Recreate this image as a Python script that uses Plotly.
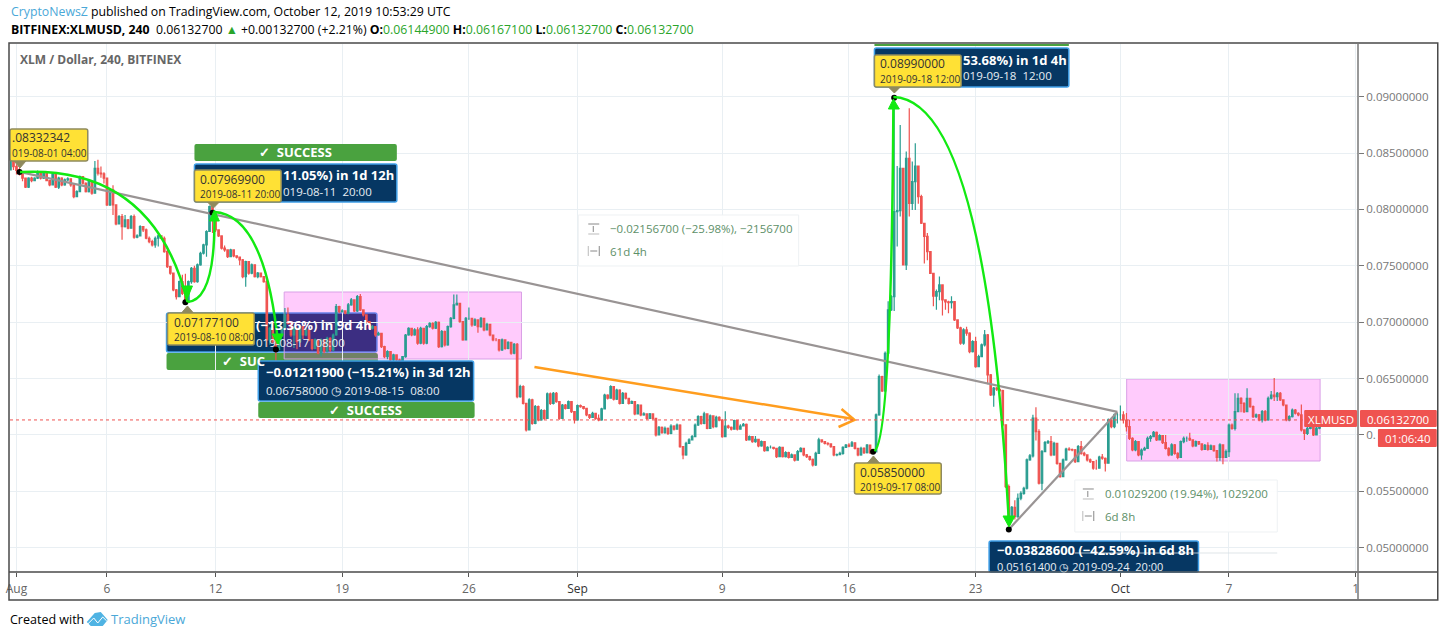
import pandas as pd
import plotly.graph_objects as go

# prices, in units of 0.00001. one row = one day of 4h bars
first_open = 8351
closes = [
    8425, 8380,
    8345, 8332, 8277, 8197, 8277, 8256,
    8277, 8336, 8277, 8321, 8256, 8218,
    8315, 8197, 8277, 8218, 8262, 8271,
    8218, 8114, 8158, 8291, 8232, 8158,
    8247, 8144, 8365, 8321, 8315, 8277,
    8040, 8173, 8040, 7872, 7937, 7848,
    7907, 7833, 7937, 7753, 7765, 7848,
    7818, 7744, 7715, 7685, 7744, 7765,
    7744, 7626, 7493, 7434, 7286, 7227,
    7360, 7256, 7177, 7360, 7478, 7360,
    7508, 7611, 7685, 7804, 8025, 7970,
    7818, 7765, 7656, 7641, 7582, 7641,
    7588, 7576, 7552, 7404, 7537, 7434,
    7508, 7404, 7434, 7404, 7360, 6842,
    6946, 6827, 6759, 6886, 6946, 7064,
    6990, 6886, 6946, 6827, 6960, 6886,
    6931, 6842, 6768, 6842, 6724, 6842,
    6739, 6857, 6753, 6886, 7138, 7093,
    7100, 7079, 7153, 7197, 7099, 7226,
    7108, 7064, 7005, 6946, 6960, 6886,
    6901, 6783, 6694, 6739, 6665, 6709,
    6665, 6620, 6694, 6886, 6946, 6886,
    6931, 6813, 6946, 6813, 6960, 6990,
    6946, 6999, 6783, 6916, 6798, 6960,
    7034, 7153, 7167, 7005, 6842, 7034,
    7034, 6975, 7020, 6960, 7034, 6931,
    6981, 6886, 6842, 6842, 6753, 6842,
    6768, 6821, 6724, 6804, 6340, 6428,
    6280, 6044, 6310, 6103, 6250, 6132,
    6215, 6147, 6363, 6280, 6369, 6295,
    6147, 6265, 6236, 6295, 6206, 6132,
    6259, 6250, 6236, 6177, 6156, 6191,
    6147, 6132, 6230, 6354, 6325, 6428,
    6316, 6398, 6280, 6369, 6325, 6280,
    6295, 6186, 6265, 6177, 6186, 6147,
    6186, 6147, 5999, 6067, 6020, 6058,
    6014, 6079, 6050, 6088, 5896, 5822,
    5925, 5955, 5984, 6088, 6162, 6102,
    6186, 6058, 6168, 6073, 6156, 6132,
    5984, 6079, 6067, 6050, 6126, 6050,
    6079, 6094, 5955, 5984, 5940, 5961,
    5902, 5940, 5860, 5890, 5890, 5881,
    5807, 5890, 5807, 5842, 5801, 5822,
    5777, 5851, 5881, 5822, 5807, 5783,
    5733, 5836, 5955, 5940, 5925, 5920,
    5896, 5822, 5825, 5836, 5890, 5910,
    5900, 5930, 5880, 5822, 5881, 5842,
    5910, 5842, 5850, 6177, 6517, 6390,
    6724, 7108, 7226, 7980, 7990, 8365,
    7507, 8453, 8054, 8246, 8385, 8113,
    7877, 7760, 7625, 7433, 7230, 7270,
    7330, 7197, 7180, 7173, 7182, 7020,
    6950, 6813, 6931, 6902, 6739, 6828,
    6606, 6695, 6798, 6887, 6532, 6355,
    6414, 6405, 6393, 6089, 5542, 5275,
    5358, 5275, 5438, 5482, 5527, 5778,
    5814, 6148, 6029, 5571, 5852, 5932,
    5941, 5822, 5926, 5748, 5630, 5778,
    5873, 5870, 5867, 5763, 5896, 5837,
    5822, 5778, 5763, 5704, 5704, 5802,
    5793, 5749, 6133, 6074, 6177, 6177,
    6177, 6132, 6073, 5970, 5866, 5940,
    5822, 5866, 5881, 5970, 5985, 6023,
    5955, 5993, 5931, 5881, 5822, 5911,
    5837, 5801, 5940, 5970, 5970, 5955,
    5902, 5940, 5920, 5872, 5908, 5872,
    5902, 5860, 5801, 5911, 5801, 5852,
    6088, 6058, 6206, 6325, 6280, 6206,
    6325, 6251, 6162, 6177, 6132, 6206,
    6132, 6325, 6354, 6339, 6369, 6310,
    6265, 6132, 6162, 6221, 6192, 6177,
    6044, 6014, 6058, 6118, 6000, 6060,
    6090, 6145, 6133,
]
highs = [
    8439, 8430,
    8400, 8370, 8335, 8280, 8285, 8290,
    8285, 8345, 8340, 8330, 8325, 8260,
    8325, 8320, 8290, 8285, 8275, 8285,
    8275, 8220, 8170, 8300, 8295, 8240,
    8260, 8250, 8430, 8440, 8380, 8330,
    8280, 8185, 8215, 8045, 7950, 7960,
    7950, 7915, 7950, 7955, 7780, 7860,
    7850, 7830, 7760, 7730, 7760, 7780,
    7770, 7760, 7640, 7500, 7440, 7295,
    7370, 7420, 7430, 7370, 7490, 7500,
    7520, 7625, 7695, 7815, 8035, 8030,
    7980, 7820, 7770, 7680, 7645, 7650,
    7645, 7590, 7580, 7560, 7545, 7540,
    7520, 7510, 7445, 7440, 7410, 7375,
    6960, 7000, 6850, 6900, 6960, 7125,
    7130, 7000, 6960, 6950, 6975, 6970,
    6945, 6940, 6850, 6855, 6850, 6855,
    6850, 6870, 6865, 6900, 7160, 7145,
    7115, 7105, 7170, 7215, 7200, 7240,
    7250, 7115, 7070, 7010, 6975, 6965,
    6915, 6905, 6790, 6750, 6745, 6720,
    6715, 6675, 6700, 6895, 6955, 6950,
    6945, 6955, 6960, 6950, 6975, 7000,
    7000, 7010, 7005, 6930, 6925, 6970,
    7045, 7245, 7245, 7170, 7010, 7045,
    7130, 7040, 7035, 7025, 7045, 7040,
    6995, 6985, 6890, 6860, 6850, 6855,
    6845, 6830, 6825, 6815, 6815, 6445,
    6440, 6285, 6325, 6320, 6265, 6260,
    6230, 6225, 6375, 6375, 6380, 6380,
    6300, 6275, 6275, 6305, 6300, 6210,
    6270, 6270, 6255, 6240, 6185, 6205,
    6195, 6180, 6240, 6365, 6360, 6440,
    6430, 6410, 6405, 6380, 6375, 6330,
    6305, 6300, 6275, 6270, 6200, 6190,
    6195, 6190, 6150, 6080, 6075, 6075,
    6065, 6095, 6085, 6100, 6095, 5900,
    5940, 5970, 6000, 6100, 6175, 6170,
    6205, 6190, 6180, 6175, 6170, 6165,
    6140, 6210, 6090, 6075, 6135, 6130,
    6095, 6105, 6100, 5995, 5990, 5990,
    5965, 5950, 5945, 5900, 5905, 5895,
    5885, 5900, 5895, 5855, 5850, 5835,
    5825, 5865, 5890, 5885, 5830, 5815,
    5790, 5850, 5975, 5960, 5945, 5935,
    5925, 5900, 5835, 5850, 5900, 5920,
    5925, 5945, 5935, 5885, 5895, 5890,
    5920, 5915, 5870, 6190, 6535, 6525,
    6740, 7185, 7240, 8990, 8385, 8749,
    8335, 8513, 8897, 8424, 8587, 8390,
    8130, 7775, 7790, 7630, 7350, 7290,
    7405, 7335, 7200, 7190, 7230, 7185,
    7025, 6960, 6945, 6960, 6910, 6840,
    6870, 6710, 6810, 6930, 6895, 6540,
    6425, 6425, 6410, 6400, 6095, 5560,
    5370, 5420, 5480, 5500, 5540, 5790,
    5830, 6178, 6245, 6050, 5865, 5945,
    5955, 5990, 5940, 5930, 5750, 5790,
    5885, 5890, 5880, 5875, 5910, 5945,
    5850, 5825, 5790, 5765, 5780, 5815,
    5830, 5800, 6145, 6140, 6190, 6195,
    6260, 6210, 6195, 6135, 5980, 5955,
    5945, 5880, 5895, 5985, 6000, 6035,
    6030, 6005, 6000, 6000, 5890, 5925,
    5920, 5845, 5950, 5985, 5985, 6020,
    5960, 5950, 5945, 5925, 5920, 5935,
    5915, 5905, 5865, 5925, 5915, 5870,
    6100, 6100, 6369, 6370, 6335, 6290,
    6413, 6330, 6260, 6190, 6185, 6220,
    6220, 6340, 6390, 6505, 6380, 6380,
    6315, 6270, 6175, 6235, 6230, 6200,
    6270, 6050, 6070, 6130, 6125, 6080,
    6100, 6150, 6167,
]
lows = [
    8351, 8350,
    8310, 8300, 8250, 8190, 8190, 8240,
    8250, 8270, 8265, 8270, 8250, 8205,
    8215, 8190, 8180, 8205, 8210, 8250,
    8200, 8100, 8110, 8155, 8220, 8150,
    8150, 8130, 8140, 8300, 8280, 8230,
    8030, 8030, 7950, 7860, 7865, 7730,
    7840, 7825, 7830, 7740, 7745, 7760,
    7800, 7735, 7700, 7670, 7660, 7670,
    7740, 7615, 7480, 7420, 7275, 7200,
    7220, 7240, 7177, 7180, 7340, 7350,
    7350, 7500, 7600, 7580, 7800, 7790,
    7800, 7755, 7645, 7625, 7570, 7575,
    7575, 7565, 7505, 7390, 7315, 7420,
    7425, 7395, 7390, 7395, 7350, 6780,
    6800, 6810, 6640, 6755, 6870, 6930,
    6980, 6870, 6770, 6760, 6815, 6850,
    6875, 6830, 6750, 6760, 6715, 6695,
    6725, 6730, 6735, 6740, 6880, 7080,
    7085, 7070, 7070, 7145, 7090, 7090,
    7100, 7050, 6995, 6935, 6935, 6870,
    6880, 6770, 6680, 6670, 6650, 6640,
    6650, 6600, 6610, 6685, 6880, 6875,
    6880, 6800, 6805, 6800, 6805, 6950,
    6935, 6940, 6770, 6775, 6785, 6790,
    6950, 7025, 7150, 6995, 6835, 6840,
    7020, 6960, 6965, 6905, 6950, 6920,
    6925, 6875, 6830, 6830, 6740, 6745,
    6755, 6760, 6710, 6715, 6325, 6330,
    6270, 6030, 6040, 6090, 6095, 6120,
    6125, 6135, 6140, 6265, 6270, 6285,
    6135, 6140, 6225, 6230, 6195, 6100,
    6125, 6240, 6225, 6165, 6140, 6150,
    6135, 6120, 6125, 6225, 6315, 6320,
    6305, 6310, 6270, 6275, 6315, 6270,
    6275, 6175, 6180, 6165, 6170, 6135,
    6140, 6135, 5985, 5995, 6010, 6010,
    6000, 6005, 6040, 6045, 5885, 5785,
    5815, 5920, 5950, 5980, 6080, 6090,
    6095, 6050, 6055, 6060, 6065, 6120,
    5975, 5980, 6055, 6040, 6045, 6040,
    6045, 6075, 5945, 5950, 5930, 5930,
    5890, 5895, 5850, 5855, 5880, 5870,
    5795, 5805, 5800, 5800, 5790, 5795,
    5765, 5770, 5845, 5810, 5795, 5770,
    5720, 5725, 5830, 5930, 5915, 5905,
    5885, 5810, 5810, 5825, 5825, 5885,
    5890, 5895, 5870, 5810, 5815, 5830,
    5835, 5830, 5830, 5845, 6170, 6380,
    6380, 6715, 7100, 7100, 7670, 7936,
    7507, 7463, 7936, 7995, 7995, 8050,
    7870, 7520, 7550, 7430, 7140, 7110,
    7195, 7060, 7110, 7080, 7120, 7010,
    6940, 6800, 6800, 6880, 6725, 6730,
    6595, 6600, 6690, 6785, 6450, 6345,
    6250, 6390, 6380, 6075, 5530, 5161,
    5265, 5250, 5265, 5420, 5470, 5515,
    5770, 5800, 5950, 5560, 5510, 5850,
    5920, 5810, 5815, 5735, 5620, 5625,
    5770, 5860, 5855, 5750, 5760, 5825,
    5810, 5765, 5750, 5690, 5690, 5700,
    5780, 5675, 5745, 6060, 6060, 6100,
    6130, 6100, 6030, 5955, 5855, 5855,
    5810, 5780, 5860, 5875, 5940, 5980,
    5945, 5950, 5920, 5870, 5810, 5815,
    5825, 5785, 5795, 5925, 5940, 5945,
    5890, 5895, 5910, 5860, 5865, 5860,
    5890, 5850, 5765, 5770, 5740, 5795,
    5805, 6045, 6040, 6200, 6200, 6195,
    6200, 6240, 6150, 6150, 6120, 6110,
    6120, 6125, 6315, 6300, 6300, 6300,
    6255, 6120, 6120, 6155, 6180, 6165,
    6030, 5955, 6000, 6050, 5990, 5995,
    6050, 6085, 6133,
]
price_unit = 0.00001
last_price = 0.06132700

marker_dates = ["2019-08-01 04:00", "2019-08-10 08:00", "2019-08-11 20:00", "2019-08-15 08:00",
                "2019-09-17 08:00", "2019-09-18 12:00", "2019-09-24 20:00"]
marker_prices = [0.08332342, 0.07177100, 0.07969900, 0.06758000, 0.05850000, 0.08990000, 0.05161400]

long_trend_dates = ["2019-08-01 04:00", "2019-09-30 20:00"]
long_trend_prices = [0.08332342, 0.06204000]
short_trend_dates = ["2019-09-24 20:00", "2019-09-30 20:00"]
short_trend_prices = [0.05161400, 0.06204000]

tick_dates = ["2019-08-01", "2019-08-06", "2019-08-12", "2019-08-19", "2019-08-26", "2019-09-01",
              "2019-09-09", "2019-09-16", "2019-09-23", "2019-10-01", "2019-10-07", "2019-10-14"]
tick_labels = ["Aug", "6", "12", "19", "26", "<span style='color:#333'>Sep</span>", "9", "16", "23",
               "<span style='color:#333'>Oct</span>", "7", "1"]
price_ticks = [0.05, 0.055, 0.06, 0.065, 0.07, 0.075, 0.08, 0.085, 0.09]
price_labels = ["0.05000000", "0.05500000", "0.", "0.06500000", "0.07000000", "0.07500000",
                "0.08000000", "0.08500000", "0.09000000"]

FONT = "Open Sans"
UP = "#2a9d91"
DOWN = "#ef5350"
NAVY = "#063763"
EDGE = "#3f9fe8"
GREEN = "#4aa23f"
YELLOW = "#ffe135"
LIME = "#12ea12"
GRID = "#e9eff3"
FRAME = "#4a4a4a"

PLOT_L, PLOT_R, PLOT_T, PLOT_B = 6, 1358, 44, 572


def px_x(v):
    return (v - PLOT_L) / (PLOT_R - PLOT_L)


def px_y(v):
    return (PLOT_B - v) / (PLOT_B - PLOT_T)


def path_shape(d, fill=None, line=None, width=1, layer="above"):
    """d is a list of (command, px, py, ...) parts in page pixels"""
    out = []
    for part in d:
        out.append(part[0])
        nums = part[1:]
        for i in range(0, len(nums), 2):
            out.append(f"{px_x(nums[i]):.5f},{px_y(nums[i + 1]):.5f}")
    return dict(type="path", xref="paper", yref="paper", path=" ".join(out), layer=layer,
                fillcolor=fill or "rgba(0,0,0,0)", line=dict(color=line or "rgba(0,0,0,0)", width=width))


def rect(x0, y0, x1, y1, fill, line=None, width=1, layer="above", radius=2):
    r = radius
    return path_shape([("M", x0 + r, y0), ("L", x1 - r, y0), ("Q", x1, y0, x1, y0 + r), ("L", x1, y1 - r),
                       ("Q", x1, y1, x1 - r, y1), ("L", x0 + r, y1), ("Q", x0, y1, x0, y1 - r),
                       ("L", x0, y0 + r), ("Q", x0, y0, x0 + r, y0), ("Z",)], fill, line, width, layer)


def seg(x0, y0, x1, y1, color, width=1, layer="above"):
    return path_shape([("M", x0, y0), ("L", x1, y1)], None, color, width, layer)


def label(x, y, text, size=12, color="#000", anchor="left"):
    return dict(xref="paper", yref="paper", x=px_x(x), y=px_y(y), text=text, showarrow=False,
                xanchor=anchor, yanchor="middle", align=anchor, borderpad=0,
                font=dict(family=FONT, size=size, color=color))


shapes = []
notes = []

# blue result box that sits under the candles, then the pink ranges
shapes.append(rect(163, 313, 374, 352, NAVY, EDGE, 1.5, "below"))
shapes.append(rect(163, 353, 375, 370, GREEN, None, 1, "below"))
shapes.append(rect(281, 292, 519, 359, "rgba(255,20,240,0.22)", "#d9a0e6", 1, "below", 0))
shapes.append(rect(1126, 379, 1320, 461, "rgba(255,20,240,0.22)", "#d9a0e6", 1, "below", 0))

# curved arrows
shapes.append(path_shape([("M", 16, 172), ("Q", 150, 165, 184, 302)], None, LIME, 2.5))
shapes.append(path_shape([("M", 184, 302), ("Q", 212, 300, 211, 216)], None, LIME, 2.5))
shapes.append(path_shape([("M", 211, 212), ("Q", 262, 215, 275, 345)], None, LIME, 2.5))
shapes.append(path_shape([("M", 873, 451), ("Q", 890, 440, 892, 105)], None, LIME, 2.5))
shapes.append(path_shape([("M", 892, 97), ("Q", 985, 100, 1008, 525)], None, LIME, 2.5))
for tri in [((178, 286), (189, 286), (184, 298)), ((206, 221), (216, 221), (211, 210)),
            ((269, 334), (280, 334), (275, 345)), ((887, 109), (898, 109), (892, 99)),
            ((1002, 516), (1014, 516), (1008, 527))]:
    shapes.append(path_shape([("M", *tri[0]), ("L", *tri[1]), ("L", *tri[2]), ("Z",)], LIME, LIME, 1))

# orange arrow
shapes.append(seg(532, 367, 852, 419, "#ff9d1e", 2.5))
shapes.append(path_shape([("M", 840, 409), ("L", 853, 420), ("L", 837, 427)], None, "#ff9d1e", 2.5))

# result boxes over the candles
shapes.append(rect(191, 144, 394, 161, GREEN))
shapes.append(rect(191, 164, 394, 202, NAVY, EDGE, 1.5))
shapes.append(rect(255, 361, 471, 401, NAVY, EDGE, 1.5))
shapes.append(rect(255, 402, 472, 418, GREEN))
shapes.append(rect(873, 44, 1068, 46, GREEN, None, 1, "above", 0))
shapes.append(rect(873, 48, 1068, 87, NAVY, EDGE, 1.5))
shapes.append(rect(988, 541, 1198, 572, NAVY, EDGE, 1.5))

# yellow callouts, box then pointer
for x0, y0, x1, y1, tip_x, tip_y in [(6, 129, 84, 161, 16, 168), (191, 170, 278, 202, 210, 208),
                                     (164, 313, 251, 345, 184, 306), (853, 463, 940, 494, 872, 456),
                                     (873, 55, 960, 87, 893, 93)]:
    base = y1 if tip_y > y1 else y0
    shapes.append(path_shape([("M", tip_x - 6, base), ("L", tip_x, tip_y), ("L", tip_x + 6, base), ("Z",)],
                             "#8f8a5e", "#8f8a5e", 1))
    shapes.append(rect(x0, y0, x1, y1, YELLOW, "#8f8a5e", 1.5))

# measure boxes
shapes.append(rect(576, 215, 797, 266, "rgba(255,255,255,0.9)", "#eef1f3", 1, "above", 0))
shapes.append(rect(1074, 480, 1277, 532, "rgba(255,255,255,0.9)", "#eef1f3", 1, "above", 0))
for bx, by in [(591, 229), (1087, 494)]:
    shapes.append(seg(bx - 5, by - 5, bx + 6, by - 5, "#888"))
    shapes.append(seg(bx - 5, by + 5, bx + 6, by + 5, "#bbb"))
    shapes.append(seg(bx, by - 3, bx, by + 3, "#888"))
for bx, by in [(591, 251), (1087, 516)]:
    shapes.append(seg(bx - 5, by - 5, bx - 5, by + 5, "#bbb"))
    shapes.append(seg(bx + 6, by - 5, bx + 6, by + 5, "#888"))
    shapes.append(seg(bx - 3, by, bx + 4, by, "#888"))
shapes.append(seg(1074, 553, 1277, 553, "rgba(215,222,226,0.8)", 1))

# price labels right of the scale
shapes.append(rect(1304, 410, 1357, 427, DOWN, None, 1, "above", 1))
shapes.append(rect(1360, 410, 1437, 427, DOWN, None, 1, "above", 1))
shapes.append(rect(1378, 429, 1437, 447, DOWN, None, 1, "above", 1))

# last price line
shapes.append(dict(type="line", xref="paper", x0=0, x1=1, yref="y", y0=last_price, y1=last_price, layer="above",
                   line=dict(color="#ef5350", width=1, dash="dot")))

# outer frame and scale lines
shapes.append(rect(5, 43, 1438, 600, None, FRAME, 1.5, "above", 0))
shapes.append(seg(5, 572, 1438, 572, FRAME, 1.5))
shapes.append(seg(1358, 43, 1358, 600, "#777", 1.5))

# TradingView logo
shapes.append(path_shape([("M", 83, 622), ("L", 91, 613), ("L", 97, 612), ("L", 104, 620), ("L", 99, 626),
                          ("L", 87, 626), ("Z",)], "#4fb3e3"))
shapes.append(path_shape([("M", 84, 624), ("L", 90, 618), ("L", 94, 623), ("L", 99, 617), ("L", 103, 621)],
                         None, "#ffffff", 1))

notes.append(label(6, 11, "<span style='color:#4aa8d8'>CryptoNewsZ</span> published on TradingView.com, "
                          "October 12, 2019 10:53:29 UTC", 12.3))
g = "<span style='color:#2aa52a'>%s</span>"
notes.append(label(6, 29, "<b>BITFINEX:XLMUSD, 240</b>  0.06132700 " + g % "▲" + " +0.00132700 (+2.21%) <b>O:</b>"
                   + g % "0.06144900" + " <b>H:</b>" + g % "0.06167100" + " <b>L:</b>" + g % "0.06132700"
                   + " <b>C:</b>" + g % "0.06132700", 12.3))
notes.append(label(15, 60, "<b>XLM / Dollar, 240, BITFINEX</b>", 12, "#666"))
notes.append(label(5, 619, "Created with", 12.5))
notes.append(label(106, 619, "TradingView", 13, "#4aa8d8"))

# success bars
for cx, cy in [(292, 152), (363, 410)]:
    notes.append(label(cx, cy, "<b>✓  SUCCESS</b>", 13, "#fff", "center"))
notes.append(label(240, 361, "<b>✓  SUC</b>", 13, "#fff", "center"))

# result box texts, only the part not hidden by a callout
notes.append(label(279, 175, "<b>11.05%) in 1d 12h</b>", 13, "#fff"))
notes.append(label(279, 191, "019-08-11  20:00", 11.5, "#e8eef4"))
notes.append(label(252, 325, "<b>(−13.36%) in 9d 4h</b>", 13, "#fff"))
notes.append(label(252, 342, "019-08-17  08:00", 11.5, "#e8eef4"))
notes.append(label(262, 372, "<b>−0.01211900 (−15.21%) in 3d 12h</b>", 13, "#fff"))
notes.append(label(262, 390, "0.06758000 ◷ 2019-08-15  08:00", 11.5, "#e8eef4"))
notes.append(label(961, 60, "<b>53.68%) in 1d 4h</b>", 13, "#fff"))
notes.append(label(961, 76, "019-09-18  12:00", 11.5, "#e8eef4"))
notes.append(label(995, 550, "<b>−0.03828600 (−42.59%) in 6d 8h</b>", 13, "#fff"))
notes.append(label(995, 566, "0.05161400 ◷ 2019-09-24  20:00", 11, "#e8eef4"))

# callout texts
for x, y, top, bottom in [(7, 138, ".08332342", "019-08-01 04:00"), (196, 179, "0.07969900", "2019-08-11 20:00"),
                          (169, 322, "0.07177100", "2019-08-10 08:00"), (858, 472, "0.05850000", "2019-09-17 08:00"),
                          (878, 64, "0.08990000", "2019-09-18 12:00")]:
    notes.append(label(x, y, top, 12, "#333"))
    notes.append(label(x, y + 15, bottom, 10, "#333"))

# measure texts
notes.append(label(607, 229, "−0.02156700 (−25.98%), −2156700", 11.5, "#5d8f68"))
notes.append(label(607, 251, "61d 4h", 11.5, "#5d8f68"))
notes.append(label(1103, 493, "0.01029200 (19.94%), 1029200", 11.5, "#5d8f68"))
notes.append(label(1103, 516, "6d 8h", 11.5, "#5d8f68"))

notes.append(label(1331, 419, "XLMUSD", 11.5, "#fff", "center"))
notes.append(label(1398, 419, "0.06132700", 11.5, "#fff", "center"))
notes.append(label(1408, 438, "01:06:40", 11.5, "#fff", "center"))

assert len(closes) == len(highs) == len(lows)
dates = pd.date_range("2019-07-31 16:00", periods=len(closes), freq="4h")
opens = [first_open] + closes[:-1]

fig = go.Figure()
fig.add_trace(go.Candlestick(
    x=dates,
    open=[v * price_unit for v in opens],
    high=[v * price_unit for v in highs],
    low=[v * price_unit for v in lows],
    close=[v * price_unit for v in closes],
    increasing=dict(line=dict(color=UP, width=1.2), fillcolor=UP),
    decreasing=dict(line=dict(color=DOWN, width=1.2), fillcolor=DOWN),
    whiskerwidth=0,
))
fig.add_trace(go.Scatter(x=long_trend_dates, y=long_trend_prices, mode="lines",
                         line=dict(color="#999494", width=2.2)))
fig.add_trace(go.Scatter(x=short_trend_dates, y=short_trend_prices, mode="lines",
                         line=dict(color="#999494", width=2.2)))
fig.add_trace(go.Scatter(x=marker_dates, y=marker_prices, mode="markers",
                         marker=dict(color="#000", size=6)))

fig.update_layout(
    width=1444, height=637,
    margin=dict(l=PLOT_L, r=1444 - PLOT_R, t=PLOT_T, b=637 - PLOT_B),
    paper_bgcolor="#fff", plot_bgcolor="#fff",
    showlegend=False,
    font=dict(family=FONT),
    shapes=shapes,
    annotations=notes,
    xaxis=dict(type="date", range=["2019-07-31 15:24", "2019-10-14 03:07"], rangeslider=dict(visible=False),
               tickvals=tick_dates, ticktext=tick_labels, ticks="outside", ticklen=4, tickcolor="#555",
               ticklabelstandoff=2, tickfont=dict(size=12, color="#666"),
               gridcolor=GRID, gridwidth=1, showline=False, zeroline=False),
    yaxis=dict(side="right", range=[0.04784, 0.09467], tickvals=price_ticks, ticktext=price_labels,
               ticks="outside", ticklen=5, tickcolor="#777", tickfont=dict(size=11.5, color="#777"),
               gridcolor=GRID, gridwidth=1, showline=False, zeroline=False),
)

# the page's default body margin would push the chart off its place
fig.write_html("out.html", config={"displayModeBar": False},
               post_script="document.body.style.margin = '0';")
